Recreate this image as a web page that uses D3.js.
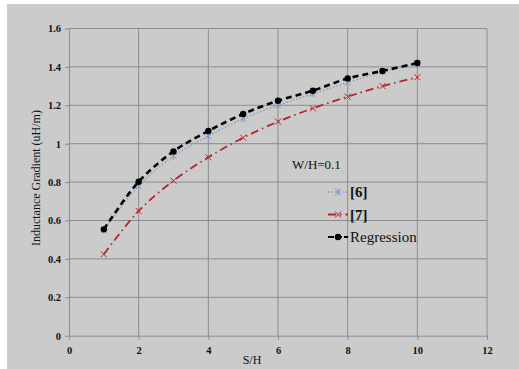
<!DOCTYPE html>
<html>
<head>
<meta charset="utf-8">
<script src="https://cdn.jsdelivr.net/npm/d3@7"></script>
<style>
  body { margin: 0; background: #fff; }
  svg { display: block; }
</style>
</head>
<body>
<svg id="chart" width="519" height="369"></svg>
<script>
// values
const sh = [1, 2, 3, 4, 5, 6, 7, 8, 9, 10];
const ref6 = [0.55, 0.78, 0.935, 1.04, 1.13, 1.2, 1.26, 1.318, 1.375, 1.42];
const ref7 = [0.424, 0.65, 0.807, 0.929, 1.031, 1.115, 1.184, 1.245, 1.3, 1.346];
const regression = [0.554, 0.802, 0.96, 1.066, 1.155, 1.224, 1.276, 1.34, 1.379, 1.42];
const xTicks = [0, 2, 4, 6, 8, 10, 12];
const yTicks = [0, 0.2, 0.4, 0.6, 0.8, 1, 1.2, 1.4, 1.6];

const svg = d3.select('#chart');
const serif = '"Liberation Serif", "DejaVu Serif", serif';

svg.append('rect')
  .attr('x', 7).attr('y', 4)
  .attr('width', 512).attr('height', 365)
  .attr('fill', '#cbcbcb');

const x = d3.scaleLinear().domain([0, 12]).range([69, 487]);
const y = d3.scaleLinear().domain([0, 1.6]).range([335.7, 28.5]);

// grid
svg.append('g')
  .selectAll('line')
  .data(xTicks.slice(1))
  .join('line')
  .attr('x1', d => x(d)).attr('x2', d => x(d))
  .attr('y1', y(0)).attr('y2', y(1.6))
  .attr('stroke', '#8c8c8c').attr('stroke-width', 1);

svg.append('g')
  .selectAll('line')
  .data(yTicks.slice(1))
  .join('line')
  .attr('x1', x(0)).attr('x2', x(12))
  .attr('y1', d => y(d)).attr('y2', d => y(d))
  .attr('stroke', '#8c8c8c').attr('stroke-width', 1);

// axes
const xAxis = svg.append('g')
  .attr('transform', `translate(0,${y(0)})`)
  .call(d3.axisBottom(x).tickValues(xTicks).tickSize(4).tickSizeOuter(0).tickFormat(d3.format('d')));
const yAxis = svg.append('g')
  .attr('transform', `translate(${x(0)},0)`)
  .call(d3.axisLeft(y).tickValues(yTicks).tickSize(4).tickSizeOuter(0).tickFormat(d => d3.format('')(+d.toFixed(1))));

[xAxis, yAxis].forEach(a => {
  a.select('.domain').attr('stroke', '#8c8c8c');
  a.selectAll('.tick line').attr('stroke', '#8c8c8c');
  a.selectAll('text')
    .attr('font-family', serif)
    .attr('font-size', 10.5)
    .attr('font-weight', 'bold')
    .attr('fill', '#111');
});
xAxis.selectAll('text').attr('dy', '1.1em');
yAxis.selectAll('text').attr('x', -8);

// axis titles
svg.append('text')
  .attr('x', 252).attr('y', 364)
  .attr('text-anchor', 'middle')
  .attr('font-family', serif).attr('font-size', 12)
  .attr('fill', '#111')
  .text('S/H');

svg.append('text')
  .attr('transform', `translate(40,${(y(0) + y(1.6)) / 2 - 4}) rotate(-90)`)
  .attr('text-anchor', 'middle')
  .attr('font-family', serif).attr('font-size', 12)
  .attr('fill', '#111')
  .text('Inductance Gradient (uH/m)');

// series
const series = [
  { name: '[6]', values: ref6, color: '#7f9cc8', width: 1.3, dash: '1.5,2', marker: 'star' },
  { name: '[7]', values: ref7, color: '#b3262b', width: 1.8, dash: '8,4,1.5,4', marker: 'cross' },
  { name: 'Regression', values: regression, color: '#000', width: 2.6, dash: '6,4', marker: 'dot' }
];

const line = d3.line()
  .x((d, i) => x(sh[i]))
  .y(d => y(d))
  .curve(d3.curveCatmullRom);

function drawMarker(g, m, color) {
  if (m === 'dot') {
    g.append('circle').attr('r', 3.2).attr('fill', color);
  } else if (m === 'cross') {
    g.append('path').attr('d', 'M-3,-3L3,3M-3,3L3,-3')
      .attr('stroke', color).attr('stroke-width', 1).attr('fill', 'none');
  } else {
    g.append('path').attr('d', 'M-3,-3L3,3M-3,3L3,-3M0,-3.5V3.5')
      .attr('stroke', color).attr('stroke-width', 1).attr('fill', 'none');
  }
}

series.forEach(s => {
  svg.append('path')
    .datum(s.values)
    .attr('d', line)
    .attr('fill', 'none')
    .attr('stroke', s.color)
    .attr('stroke-width', s.width)
    .attr('stroke-dasharray', s.dash);
  svg.append('g')
    .selectAll('g')
    .data(s.values)
    .join('g')
    .attr('transform', (d, i) => `translate(${x(sh[i])},${y(d)})`)
    .each(function () { drawMarker(d3.select(this), s.marker, s.color); });
});

// legend
svg.append('text')
  .attr('x', 292).attr('y', 169)
  .attr('font-family', serif).attr('font-size', 13)
  .attr('fill', '#111')
  .text('W/H=0.1');

const legend = svg.append('g')
  .selectAll('g')
  .data(series)
  .join('g')
  .attr('transform', (d, i) => `translate(328,${192 + i * 22.5})`);

legend.append('line')
  .attr('x1', 0).attr('x2', 20)
  .attr('stroke', d => d.color)
  .attr('stroke-width', d => Math.min(d.width, 2))
  .attr('stroke-dasharray', d => d.name === '[6]' ? '1.5,2' : d.name === '[7]' ? '8,4,1.5,4' : '6,2');
legend.append('g')
  .attr('transform', 'translate(10,0)')
  .each(function (d) { drawMarker(d3.select(this), d.marker, d.color); });
legend.append('text')
  .attr('x', 22).attr('y', 5)
  .attr('font-family', serif).attr('font-size', 15)
  .attr('font-weight', d => d.name === 'Regression' ? 'normal' : 'bold')
  .attr('fill', '#111')
  .text(d => d.name);
</script>
</body>
</html>
